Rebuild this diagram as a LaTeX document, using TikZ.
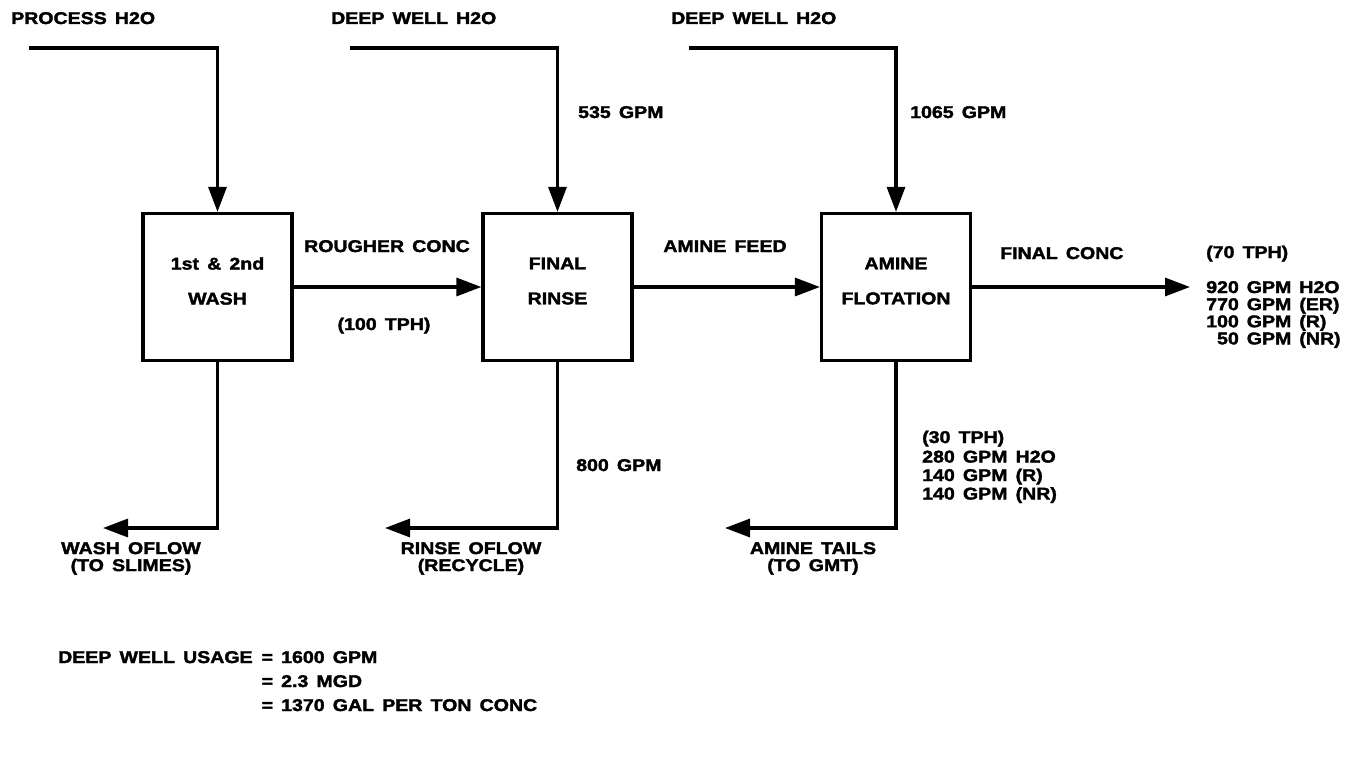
\documentclass[tikz,border=0pt]{standalone}
\usepackage{fontspec}
\setmainfont{Liberation Sans}[FakeStretch=1.15,WordSpace=1.5,BoldFeatures={FakeBold=2}]
\usetikzlibrary{arrows.meta}
\newcommand{\lblfont}{\bfseries\fontsize{17}{17}\selectfont}
\begin{document}
\begin{tikzpicture}[x=1pt,y=-1pt,
  box/.style={draw,line width=3.2pt,minimum width=149pt,minimum height=147pt,inner sep=0pt},
  flow/.style={line width=3.2pt,-{Triangle[length=25pt,width=18pt]}},
  lbl/.style={inner sep=0pt,font=\lblfont},
  boxtxt/.style={inner sep=0pt,align=center,font=\bfseries\fontsize{17}{35}\selectfont},
  twoline/.style={inner sep=0pt,align=center,font=\bfseries\fontsize{17}{17}\selectfont},
]
\useasboundingbox (0,0) rectangle (1363,760);

% boxes
\node[box] (wash) at (217.5,287) {};
\node[box] (rinse) at (557.5,287) {};
\node[box] (flot) at (896,287) {};
\node[boxtxt] (washtxt) at (217.5,281) {1st \& 2nd\\WASH};
\node[boxtxt] (rinsetxt) at (557.5,281) {FINAL\\RINSE};
\node[boxtxt] (flottxt) at (896,281) {AMINE\\FLOTATION};

% top feeds
\node[lbl,anchor=base west] (proc) at (11,24) {PROCESS H2O};
\node[lbl,anchor=base west] (dw1) at (331,24) {DEEP WELL H2O};
\node[lbl,anchor=base west] (dw2) at (671,24) {DEEP WELL H2O};
\coordinate (p1) at (29,48);
\coordinate (p2) at (350,48);
\coordinate (p3) at (689,48);
\draw[flow] (p1) -| (wash.north);
\draw[flow] (p2) -| (rinse.north);
\draw[flow] (p3) -| (flot.north);
\node[lbl,anchor=base west] (g535) at (578,118) {535 GPM};
\node[lbl,anchor=base west] (g1065) at (910,118) {1065 GPM};

% main line
\draw[flow] (wash.east) -- (rinse.west);
\draw[flow] (rinse.east) -- (flot.west);
\coordinate (fc) at (1190,287);
\draw[flow] (flot.east) -- (fc);
\node[lbl,anchor=base] (rough) at (387,252) {ROUGHER CONC};
\node[lbl,anchor=base] (tph100) at (384,330) {(100 TPH)};
\node[lbl,anchor=base] (afeed) at (725,252) {AMINE FEED};
\node[lbl,anchor=base west] (fconc) at (1000,259) {FINAL CONC};
\node[lbl,anchor=base west] (tph70) at (1206,258) {(70 TPH)};
\node[lbl,anchor=base west,font=\bfseries\fontsize{17}{16}\selectfont] (fcdata) at (1206,293)
  {\begin{tabular}[t]{@{}r@{\hspace{8pt}}l@{\hspace{8pt}}l@{}}
   920 & GPM & H2O\\ 770 & GPM & (ER)\\ 100 & GPM & (R)\\ 50 & GPM & (NR)
   \end{tabular}};

% bottom outflows
\coordinate (w1) at (103,528);
\coordinate (r1) at (385,528);
\coordinate (a1) at (725,528);
\draw[flow] (wash.south) |- (w1);
\draw[flow] (rinse.south) |- (r1);
\draw[flow] (flot.south) |- (a1);
\node[twoline,anchor=north] (wof) at (131,542) {WASH OFLOW\\(TO SLIMES)};
\node[twoline,anchor=north] (rof) at (471,542) {RINSE OFLOW\\(RECYCLE)};
\node[twoline,anchor=north] (atl) at (813,542) {AMINE TAILS\\(TO GMT)};
\node[lbl,anchor=base west] (g800) at (576,471) {800 GPM};
\node[lbl,anchor=base west,font=\bfseries\fontsize{17}{18.5}\selectfont] (atdata) at (922,443)
  {\begin{tabular}[t]{@{}l@{}}
   (30 TPH)\\[1pt] 280 GPM H2O\\ 140 GPM (R)\\ 140 GPM (NR)
   \end{tabular}};

% summary
\node[lbl,anchor=base west,font=\bfseries\fontsize{17}{24}\selectfont] (usage) at (58,663)
  {\begin{tabular}[t]{@{}r@{\hspace{9pt}}l@{}}
   DEEP WELL USAGE & = 1600 GPM\\ & = 2.3 MGD\\ & = 1370 GAL PER TON CONC
   \end{tabular}};
\end{tikzpicture}
\end{document}
